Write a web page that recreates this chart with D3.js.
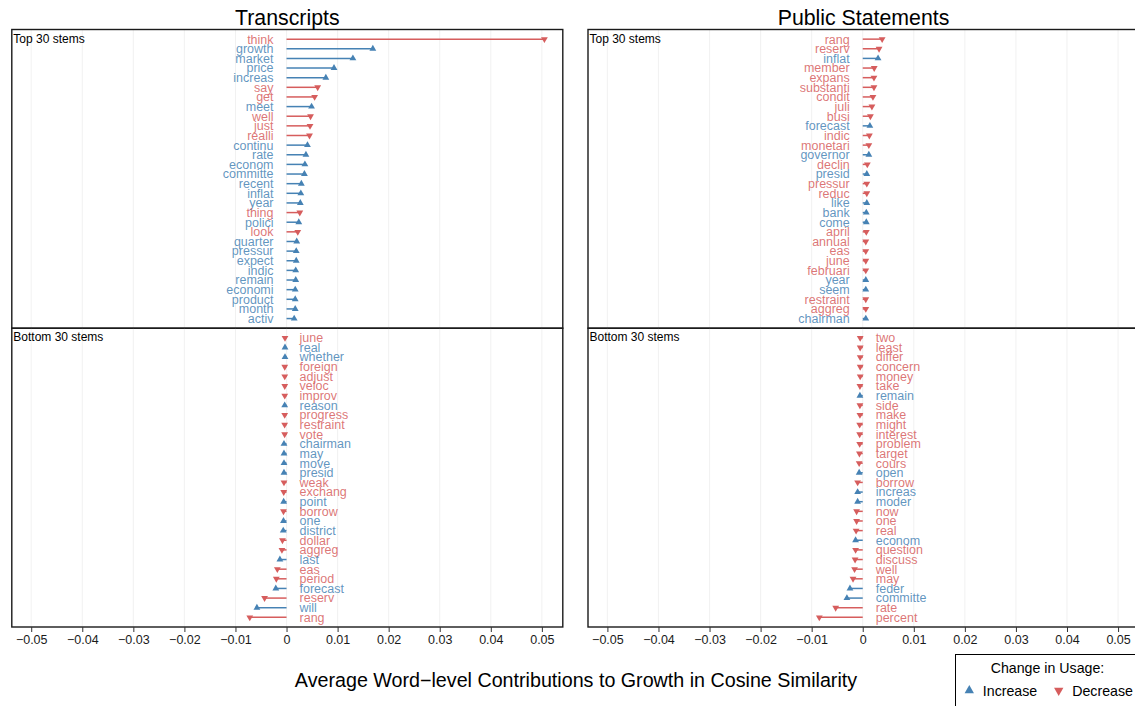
<!DOCTYPE html>
<html>
<head>
<meta charset="utf-8">
<script src="https://cdnjs.cloudflare.com/ajax/libs/d3/7.8.5/d3.min.js"></script>
<style>
  body { margin: 0; background: #fff; }
  svg { font-family: "Liberation Sans", Arial, Helvetica, sans-serif; }
</style>
</head>
<body>
<svg id="chart" width="1135" height="706"></svg>
<script>
// I = increase in usage, D = decrease in usage
var transTopStems = ["think","growth","market","price","increas","say","get","meet","well","just","realli","continu","rate","econom","committe","recent","inflat","year","thing","polici","look","quarter","pressur","expect","indic","remain","economi","product","month","activ"];
var transTopValues = [0.0505,0.0169,0.0130,0.0093,0.0077,0.0061,0.0055,0.0049,0.0047,0.0046,0.0045,0.0041,0.0038,0.0036,0.0035,0.0029,0.0028,0.0027,0.0026,0.0024,0.0022,0.0020,0.0019,0.0019,0.0018,0.0018,0.0017,0.0017,0.0017,0.0015];
var transTopChange = ["D","I","I","I","I","D","D","I","D","D","D","I","I","I","I","I","I","I","D","I","D","I","I","I","I","I","I","I","I","I"];

var transBottomStems = ["june","real","whether","foreign","adjust","veloc","improv","reason","progress","restraint","vote","chairman","may","move","presid","weak","exchang","point","borrow","one","district","dollar","aggreg","last","eas","period","forecast","reserv","will","rang"];
var transBottomValues = [-0.0003,-0.0003,-0.0003,-0.00035,-0.00035,-0.00035,-0.00035,-0.00036,-0.00036,-0.00037,-0.00037,-0.0005,-0.0005,-0.0005,-0.0005,-0.0005,-0.00055,-0.00056,-0.0006,-0.0006,-0.00065,-0.0008,-0.0009,-0.0013,-0.0018,-0.0020,-0.0021,-0.0043,-0.0058,-0.0072];
var transBottomChange = ["D","I","I","D","D","D","D","I","D","D","D","I","I","I","I","D","D","I","D","I","I","D","D","I","D","D","I","D","I","D"];

var pubTopStems = ["rang","reserv","inflat","member","expans","substanti","condit","juli","busi","forecast","indic","monetari","governor","declin","presid","pressur","reduc","like","bank","come","april","annual","eas","june","februari","year","seem","restraint","aggreg","chairman"];
var pubTopValues = [0.0038,0.0032,0.0030,0.00225,0.0022,0.0022,0.0020,0.0018,0.0015,0.0014,0.0013,0.0012,0.0012,0.0009,0.0008,0.0008,0.0008,0.0008,0.0007,0.0007,0.0007,0.0006,0.0006,0.0006,0.0006,0.0006,0.0006,0.0006,0.0006,0.0006];
var pubTopChange = ["D","D","I","D","D","D","D","D","D","I","D","D","I","D","I","D","D","I","I","I","D","D","D","D","D","I","I","D","D","I"];

var pubBottomStems = ["two","least","differ","concern","money","take","remain","side","make","might","interest","problem","target","cours","open","borrow","increas","moder","now","one","real","econom","question","discuss","well","may","feder","committe","rate","percent"];
var pubBottomValues = [-0.0005,-0.0005,-0.0005,-0.0005,-0.0005,-0.00055,-0.00055,-0.00055,-0.00055,-0.0006,-0.0006,-0.0006,-0.00065,-0.0007,-0.0007,-0.001,-0.001,-0.001,-0.0012,-0.0012,-0.0013,-0.0014,-0.0014,-0.0015,-0.0016,-0.0019,-0.0025,-0.0031,-0.0053,-0.0085];
var pubBottomChange = ["D","D","D","D","D","D","I","D","D","D","D","D","D","D","I","D","I","I","D","D","D","I","D","D","D","D","I","I","D","D"];

var tickValues = [-0.05,-0.04,-0.03,-0.02,-0.01,0,0.01,0.02,0.03,0.04,0.05];
var panelTitles = ["Transcripts", "Public Statements"];
var legendLabels = ["Increase", "Decrease"];

var blue = "#4682b4", red = "#d65d5d";
var svg = d3.select("#chart");

var panelW = 551, panelTop = 29.5, panelMid = 328.2, panelBot = 627;
var lefts = [11.8, 588];

var tri = d3.symbol().type(d3.symbolTriangle).size(20);

function drawPanel(g, stems, values, change, y0, y1, isTop, x, label) {
    var y = d3.scalePoint().domain(stems).range([y0, y1]).padding(1);

    g.selectAll(".grid").data(tickValues).enter().append("line")
        .attr("x1", function (d) { return x(d); })
        .attr("x2", function (d) { return x(d); })
        .attr("y1", y0).attr("y2", y1)
        .attr("stroke", "#efefef").attr("stroke-width", 0.9);

    var rows = stems.map(function (s, i) { return {s: s, v: values[i], c: change[i]}; });

    g.selectAll(".seg").data(rows).enter().append("line")
        .attr("x1", x(0))
        .attr("x2", function (d) { return x(d.v); })
        .attr("y1", function (d) { return y(d.s); })
        .attr("y2", function (d) { return y(d.s); })
        .attr("stroke", function (d) { return d.c == "I" ? blue : red; })
        .attr("stroke-width", 1.5);

    g.selectAll(".pt").data(rows).enter().append("path")
        .attr("d", tri)
        .attr("transform", function (d) {
            return "translate(" + x(d.v) + "," + y(d.s) + ")" + (d.c == "D" ? " rotate(180)" : "");
        })
        .attr("fill", function (d) { return d.c == "I" ? blue : red; });

    g.selectAll(".lab").data(rows).enter().append("text")
        .attr("x", isTop ? x(0) - 13 : x(0) + 13)
        .attr("y", function (d) { return y(d.s); })
        .attr("dy", "0.35em")
        .attr("text-anchor", isTop ? "end" : "start")
        .attr("font-size", 12.5)
        .attr("fill", function (d) { return d.c == "I" ? blue : red; })
        .attr("fill-opacity", 0.85)
        .text(function (d) { return d.s; });

    g.append("text")
        .attr("x", x.range()[0] + 1.5)
        .attr("y", y0 + 13)
        .attr("font-size", 12)
        .attr("fill", "#000")
        .text(label);

    g.append("rect")
        .attr("x", x.range()[0]).attr("y", y0)
        .attr("width", panelW).attr("height", y1 - y0)
        .attr("fill", "none").attr("stroke", "#1a1a1a").attr("stroke-width", 1.4);
}

var sets = [
    [transTopStems, transTopValues, transTopChange, transBottomStems, transBottomValues, transBottomChange],
    [pubTopStems, pubTopValues, pubTopChange, pubBottomStems, pubBottomValues, pubBottomChange]
];

sets.forEach(function (s, k) {
    var x = d3.scaleLinear().domain([-0.0538, 0.0541]).range([lefts[k], lefts[k] + panelW]);
    var g = svg.append("g");
    drawPanel(g, s[0], s[1], s[2], panelTop, panelMid, true, x, "Top 30 stems");
    drawPanel(g, s[3], s[4], s[5], panelMid, panelBot, false, x, "Bottom 30 stems");

    var ax = svg.append("g")
        .attr("transform", "translate(0," + panelBot + ")")
        .call(d3.axisBottom(x).tickValues(tickValues).tickSize(5).tickPadding(3)
            .tickFormat(function (d) { return d === 0 ? "0" : d3.format(".2f")(d); }));
    ax.select(".domain").remove();
    ax.selectAll("line").attr("stroke", "#333").attr("stroke-width", 1);
    ax.selectAll("text").attr("font-size", 12.5).attr("fill", "#1a1a1a")
        .attr("font-family", "Liberation Sans, Arial, sans-serif");

    svg.append("text")
        .attr("x", lefts[k] + panelW / 2).attr("y", 25)
        .attr("text-anchor", "middle").attr("font-size", 21.3).attr("fill", "#000")
        .text(panelTitles[k]);
});

svg.append("text")
    .attr("x", 576).attr("y", 687)
    .attr("text-anchor", "middle").attr("font-size", 19.7).attr("fill", "#000")
    .text("Average Word\u2212level Contributions to Growth in Cosine Similarity");

// legend
var lg = svg.append("g");
lg.append("rect").attr("x", 955.5).attr("y", 654.5).attr("width", 220).attr("height", 70)
    .attr("fill", "#fff").attr("stroke", "#000").attr("stroke-width", 1);
lg.append("text").attr("x", 1047.5).attr("y", 673).attr("text-anchor", "middle")
    .attr("font-size", 14.2).text("Change in Usage:");
var legTri = d3.symbol().type(d3.symbolTriangle).size(38);
var legX = [969.3, 1058.7];
legendLabels.forEach(function (l, i) {
    lg.append("path").attr("d", legTri)
        .attr("transform", "translate(" + legX[i] + ",690.5)" + (i == 1 ? " rotate(180)" : ""))
        .attr("fill", i == 0 ? blue : red);
    lg.append("text").attr("x", legX[i] + 13.5).attr("y", 695.5)
        .attr("font-size", 14.2).text(l);
});
</script>
</body>
</html>
